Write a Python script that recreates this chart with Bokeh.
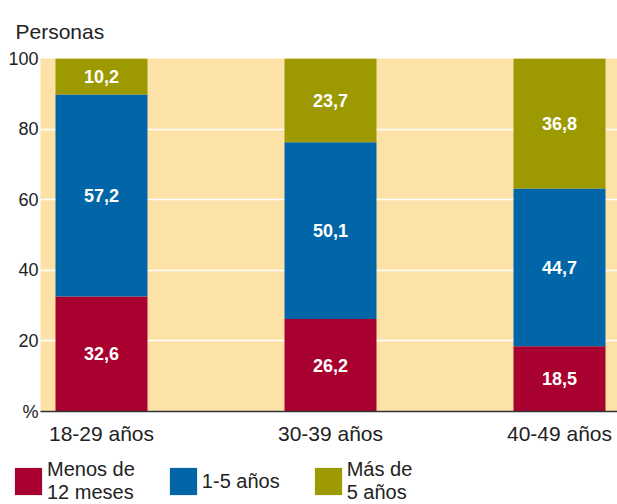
from bokeh.plotting import figure
from bokeh.layouts import column
from bokeh.models import Legend, LegendItem, ColumnDataSource, FixedTicker
from bokeh.core.properties import value
from bokeh.embed import file_html
from bokeh.resources import INLINE

categories = ["18-29 años", "30-39 años", "40-49 años"]
menos_12_meses = [32.6, 26.2, 18.5]
uno_cinco_anos = [57.2, 50.1, 44.7]
mas_5_anos = [10.2, 23.7, 36.8]
series_names = ["Menos de\n12 meses", "1-5 años", "Más de\n5 años"]
colors = ["#A8002F", "#0066A8", "#9C9A00"]
y_ticks = [0, 20, 40, 60, 80, 100]

FONT = "Liberation Sans"
TXT = "#222222"

xs = list(range(len(categories)))
src = ColumnDataSource(dict(x=xs, m=menos_12_meses, u=uno_cinco_anos, s=mas_5_anos))

p = figure(width=617, height=450, output_backend="svg", toolbar_location=None,
           x_range=(-0.2664, 2.2533), y_range=(0, 100),
           min_border_left=40, min_border_right=0, min_border_top=58, min_border_bottom=39)
p.frame_align = False
p.background_fill_color = "#FDE2A8"
p.border_fill_color = "white"
p.outline_line_color = None

renderers = p.vbar_stack(["m", "u", "s"], x="x", width=0.4017, color=colors, line_width=0, source=src)

# value labels
lx, ly, lt = [], [], []
for i in xs:
    base = 0
    for vals in (menos_12_meses, uno_cinco_anos, mas_5_anos):
        v = vals[i]
        lx.append(i)
        ly.append(base + v / 2)
        lt.append(f"{v:.1f}".replace(".", ","))
        base += v
p.text(x=lx, y=ly, text=lt, text_color="white", text_font=value(FONT), text_font_style="bold",
       text_font_size="18px", text_align="center", text_baseline="middle")

p.xgrid.grid_line_color = None
p.ygrid.ticker = FixedTicker(ticks=y_ticks)
p.ygrid.grid_line_color = "white"
p.ygrid.grid_line_width = 1.5

p.yaxis.ticker = FixedTicker(ticks=y_ticks)
p.yaxis.major_label_overrides = {0: "%"}
p.yaxis.axis_line_color = None
p.yaxis.major_tick_line_color = None
p.yaxis.major_tick_out = 0
p.yaxis.major_tick_in = 0
p.yaxis.minor_tick_line_color = None
p.yaxis.major_label_text_font = FONT
p.yaxis.major_label_text_font_size = "18px"
p.yaxis.major_label_text_color = TXT
p.yaxis.major_label_standoff = 2

p.xaxis.ticker = FixedTicker(ticks=xs)
p.xaxis.major_label_overrides = {i: c for i, c in zip(xs, categories)}
p.xaxis.axis_line_color = "#333333"
p.xaxis.axis_line_width = 1.5
p.xaxis.major_tick_line_color = None
p.xaxis.major_tick_out = 0
p.xaxis.major_tick_in = 0
p.xaxis.minor_tick_line_color = None
p.xaxis.major_label_text_font = FONT
p.xaxis.major_label_text_font_size = "21px"
p.xaxis.major_label_text_color = TXT
p.xaxis.major_label_standoff = 10

p.title.text = "Personas"
p.title.text_font = FONT
p.title.text_font_size = "21px"
p.title.text_font_style = "normal"
p.title.text_color = TXT
p.title.align = "left"
p.title.offset = -25
p.title.standoff = 32

# legend figure
lg = figure(width=617, height=54, output_backend="svg", toolbar_location=None,
            x_range=(-0.2664, 2.2533), y_range=(0, 1), x_axis_type=None, y_axis_type=None,
            min_border_left=11, min_border_right=0, min_border_top=8, min_border_bottom=0)
lg.frame_align = False
lg.grid.visible = False
lg.outline_line_color = None
lg_src = ColumnDataSource(dict(x=xs, m=menos_12_meses, u=uno_cinco_anos, s=mas_5_anos))
lg_renderers = lg.vbar_stack(["m", "u", "s"], x="x", width=0.4017, color=colors, line_width=0, source=lg_src)
for r in lg_renderers:
    r.visible = False

legend = Legend(items=[LegendItem(label=n, renderers=[r]) for n, r in zip(series_names, lg_renderers)],
                orientation="horizontal", location="top_left")
legend.border_line_color = None
legend.background_fill_alpha = 0
legend.glyph_width = 34
legend.glyph_height = 34
legend.label_text_font = FONT
legend.label_text_font_size = "20px"
legend.label_text_line_height = 0.95
legend.label_text_color = TXT
legend.label_standoff = 2
legend.spacing = 31
legend.padding = 0
legend.margin = 0
legend.inactive_fill_alpha = 0
lg.add_layout(legend)

layout = column(p, lg, spacing=0)
open("out.html", "w").write(file_html(layout, INLINE))
